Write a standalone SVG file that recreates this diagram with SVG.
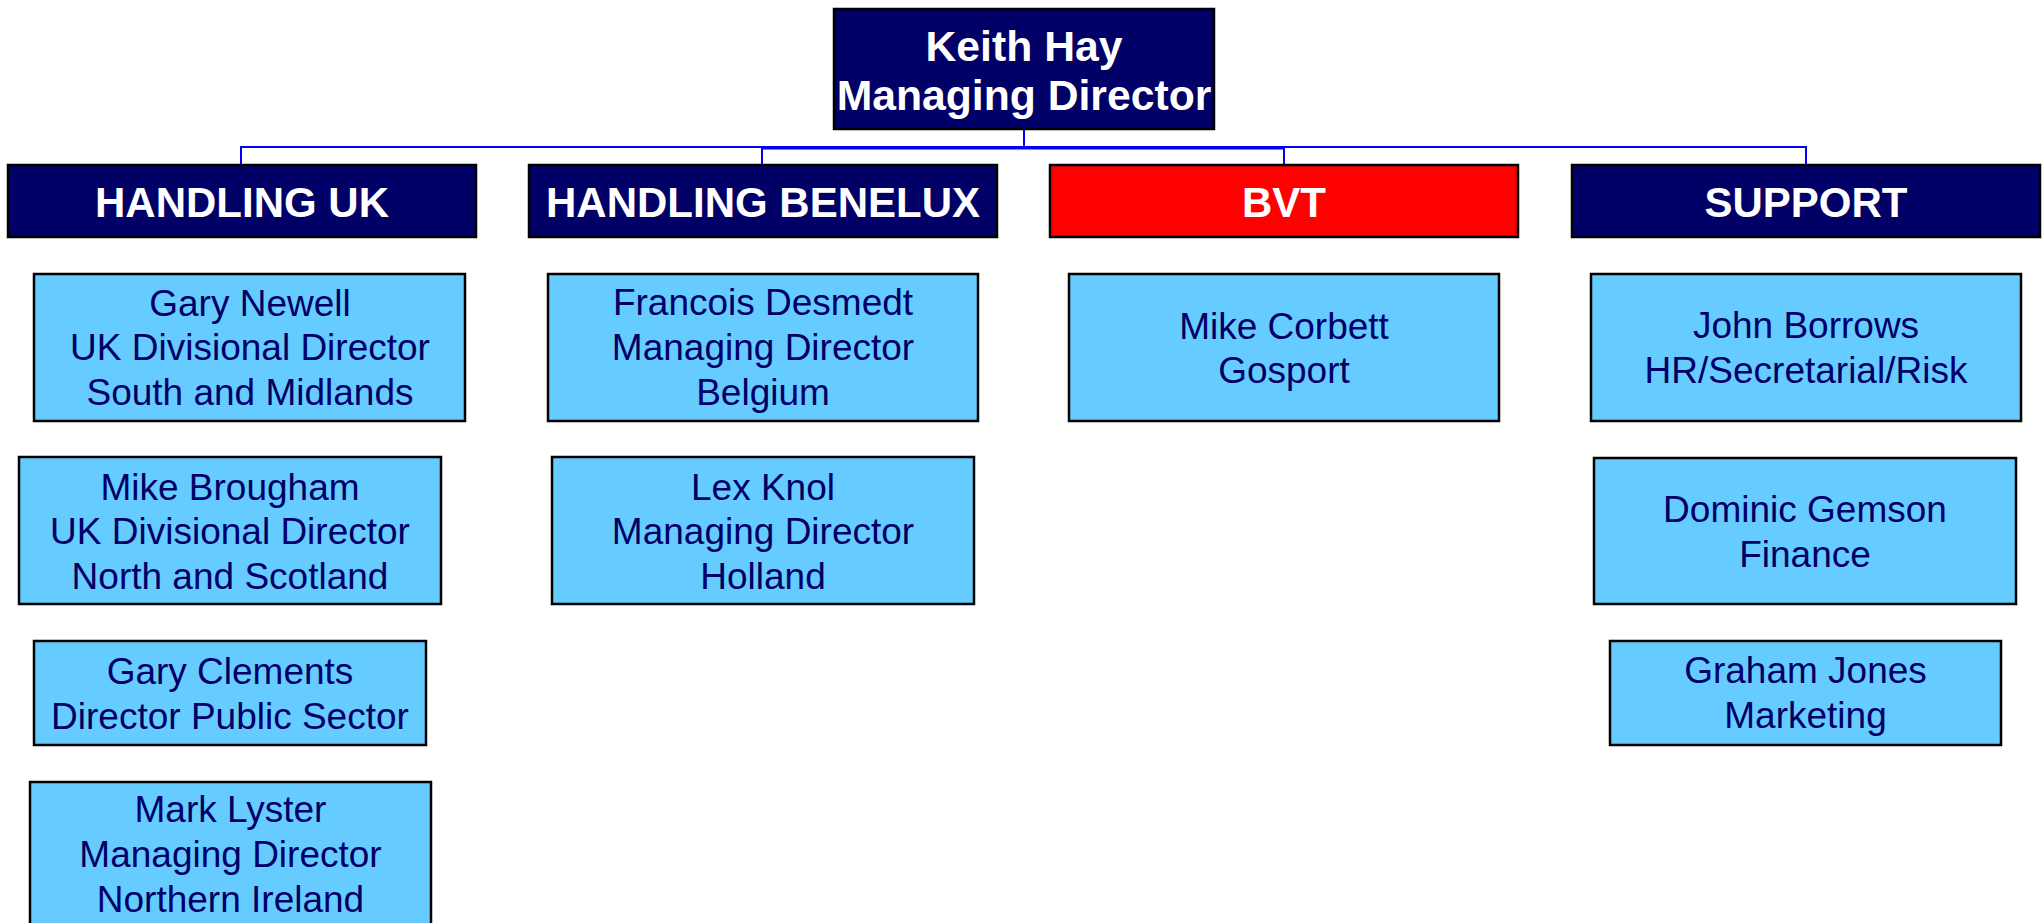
<svg xmlns="http://www.w3.org/2000/svg" width="2044" height="923" viewBox="0 0 2044 923">
  <style>
    .head { fill: #000066; stroke: #000000; stroke-width: 2.5; }
    .unit { fill: #66CCFF; stroke: #000000; stroke-width: 2.5; }
    .red { fill: #FF0000; stroke: #000000; stroke-width: 2.5; }
    .ht { font-family: "Liberation Sans", Arial, sans-serif; font-weight: bold; font-size: 42px; fill: #FFFFFF; text-anchor: middle; }
    .top { font-size: 42.7px; }
    .bt { font-family: "Liberation Sans", Arial, sans-serif; font-size: 37px; fill: #000066; text-anchor: middle; }
    .wire { stroke: #0000FF; stroke-width: 2; fill: none; }
  </style>
  <rect width="2044" height="923" fill="#FFFFFF"/>

  <!-- reporting lines -->
  <g id="connectors">
    <line class="wire" x1="1024" y1="130" x2="1024" y2="147" stroke-width="4"/>
    <line class="wire" x1="241" y1="147" x2="1806" y2="147"/>
    <line class="wire" x1="762" y1="148.5" x2="1284" y2="148.5"/>
    <line class="wire" x1="241" y1="146" x2="241" y2="164"/>
    <line class="wire" x1="762" y1="146" x2="762" y2="164"/>
    <line class="wire" x1="1284" y1="146" x2="1284" y2="164"/>
    <line class="wire" x1="1806" y1="146" x2="1806" y2="164"/>
  </g>

  <!-- top -->
  <g id="keith-hay">
    <rect class="head" x="834" y="9" width="380" height="120"/>
    <text class="ht top" x="1024" y="61">Keith Hay</text>
    <text class="ht top" x="1024" y="110">Managing Director</text>
  </g>

  <!-- division headers -->
  <g id="handling-uk">
    <rect class="head" x="8" y="165" width="468" height="72"/>
    <text class="ht" x="242" y="217">HANDLING UK</text>
  </g>
  <g id="handling-benelux">
    <rect class="head" x="529" y="165" width="468" height="72"/>
    <text class="ht" x="763" y="217">HANDLING BENELUX</text>
  </g>
  <g id="bvt">
    <rect class="red" x="1050" y="165" width="468" height="72"/>
    <text class="ht" x="1284" y="217">BVT</text>
  </g>
  <g id="support">
    <rect class="head" x="1572" y="165" width="468" height="72"/>
    <text class="ht" x="1806" y="217">SUPPORT</text>
  </g>

  <!-- Handling UK -->
  <g id="gary-newell">
    <rect class="unit" x="34" y="274" width="431" height="147"/>
    <text class="bt" x="250" y="316">Gary Newell</text>
    <text class="bt" x="250" y="360">UK Divisional Director</text>
    <text class="bt" x="250" y="405">South and Midlands</text>
  </g>
  <g id="mike-brougham">
    <rect class="unit" x="19" y="457" width="422" height="147"/>
    <text class="bt" x="230" y="500">Mike Brougham</text>
    <text class="bt" x="230" y="544">UK Divisional Director</text>
    <text class="bt" x="230" y="589">North and Scotland</text>
  </g>
  <g id="gary-clements">
    <rect class="unit" x="34" y="641" width="392" height="104"/>
    <text class="bt" x="230" y="684">Gary Clements</text>
    <text class="bt" x="230" y="729">Director Public Sector</text>
  </g>
  <g id="mark-lyster">
    <rect class="unit" x="30" y="782" width="401" height="160"/>
    <text class="bt" x="230.5" y="822">Mark Lyster</text>
    <text class="bt" x="230.5" y="867">Managing Director</text>
    <text class="bt" x="230.5" y="912">Northern Ireland</text>
  </g>

  <!-- Handling Benelux -->
  <g id="francois-desmedt">
    <rect class="unit" x="548" y="274" width="430" height="147"/>
    <text class="bt" x="763" y="315">Francois Desmedt</text>
    <text class="bt" x="763" y="360">Managing Director</text>
    <text class="bt" x="763" y="405">Belgium</text>
  </g>
  <g id="lex-knol">
    <rect class="unit" x="552" y="457" width="422" height="147"/>
    <text class="bt" x="763" y="500">Lex Knol</text>
    <text class="bt" x="763" y="544">Managing Director</text>
    <text class="bt" x="763" y="589">Holland</text>
  </g>

  <!-- BVT -->
  <g id="mike-corbett">
    <rect class="unit" x="1069" y="274" width="430" height="147"/>
    <text class="bt" x="1284" y="339">Mike Corbett</text>
    <text class="bt" x="1284" y="383">Gosport</text>
  </g>

  <!-- Support -->
  <g id="john-borrows">
    <rect class="unit" x="1591" y="274" width="430" height="147"/>
    <text class="bt" x="1806" y="338">John Borrows</text>
    <text class="bt" x="1806" y="383">HR/Secretarial/Risk</text>
  </g>
  <g id="dominic-gemson">
    <rect class="unit" x="1594" y="458" width="422" height="146"/>
    <text class="bt" x="1805" y="522">Dominic Gemson</text>
    <text class="bt" x="1805" y="567">Finance</text>
  </g>
  <g id="graham-jones">
    <rect class="unit" x="1610" y="641" width="391" height="104"/>
    <text class="bt" x="1805.5" y="683">Graham Jones</text>
    <text class="bt" x="1805.5" y="728">Marketing</text>
  </g>
</svg>
